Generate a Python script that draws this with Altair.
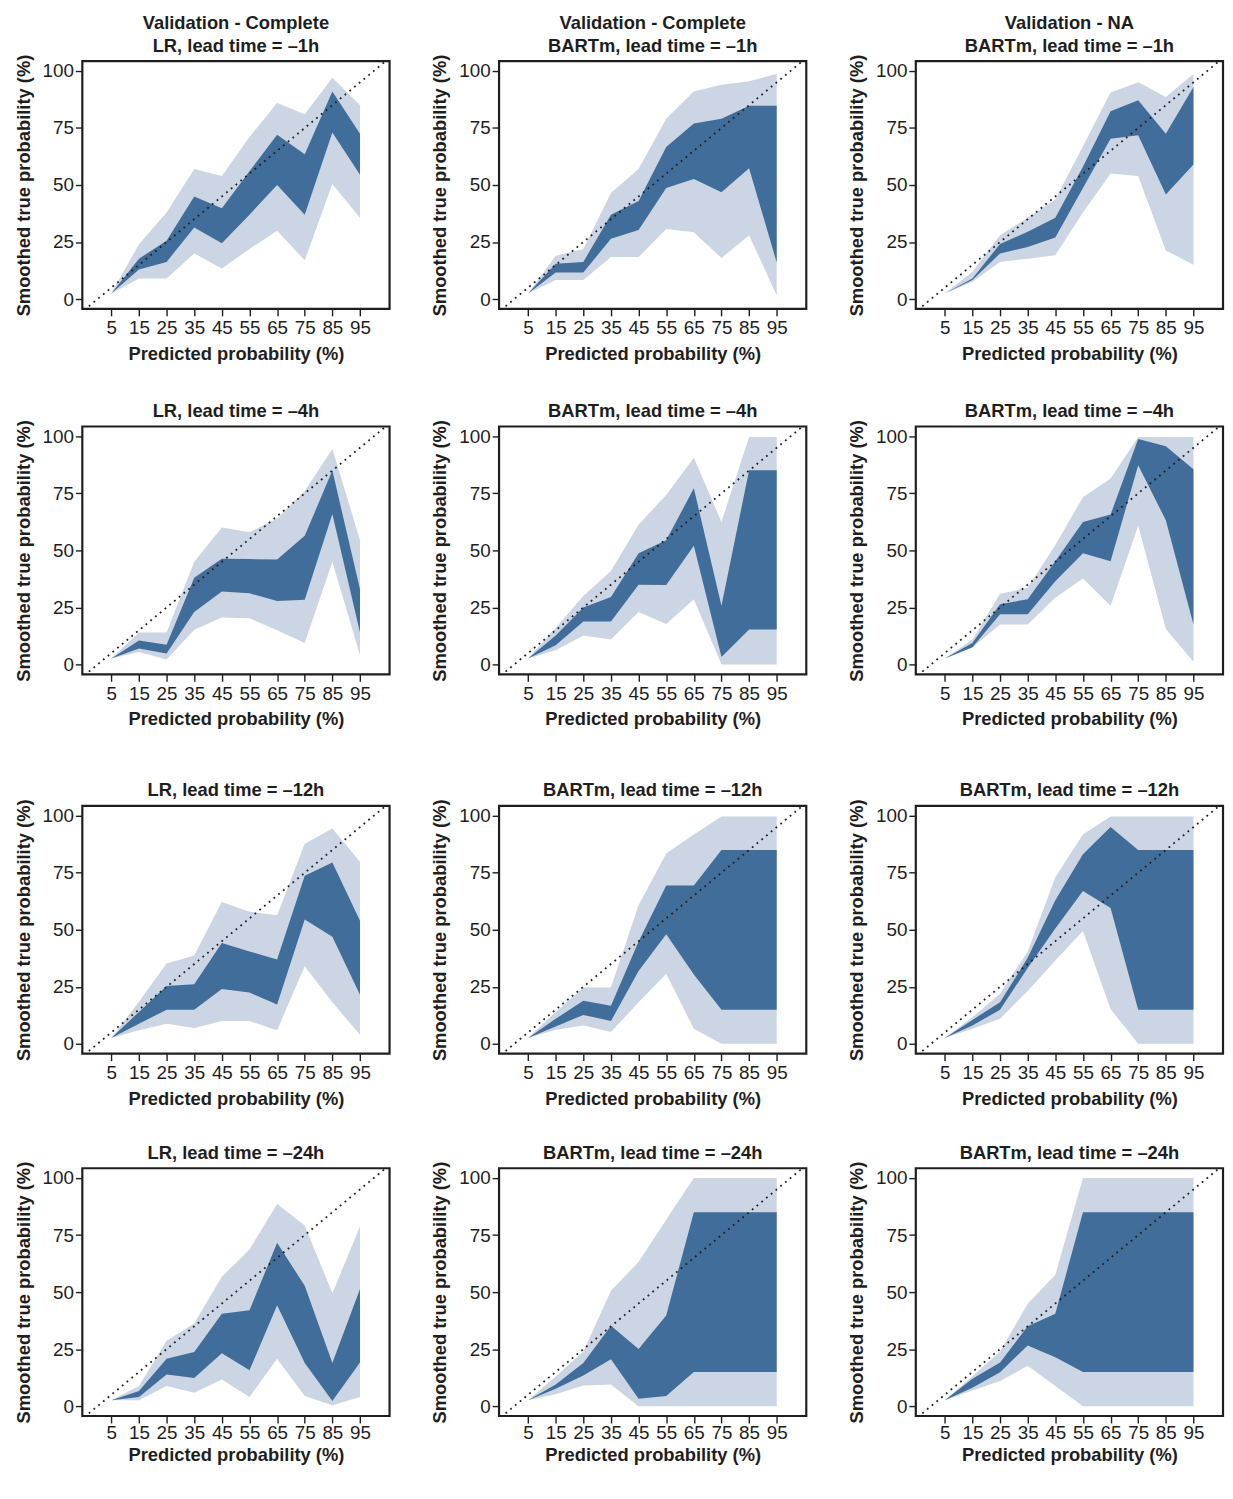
import altair as alt
import pandas as pd

X = [5, 15, 25, 35, 45, 55, 65, 75, 85, 95]
X_TICKS = [5, 15, 25, 35, 45, 55, 65, 75, 85, 95]
Y_TICKS = [0, 25, 50, 75, 100]

# Row 1: lead time -1h
lr1_ohi = [2.6, 24, 38, 57, 54, 71, 86, 81, 97, 85]
lr1_ihi = [2.5, 17.7, 25.6, 45, 39.8, 56, 72, 63.5, 91, 72.5]
lr1_ilo = [2.5, 13, 16.3, 31.4, 24.5, 37, 50, 37, 73, 54.5]
lr1_olo = [2.5, 9, 9, 20, 13.4, 22, 30, 17, 50.4, 35.7]

bc1_ohi = [2.5, 19, 22, 46.5, 57, 79, 91, 94, 95.5, 98.7]
bc1_ihi = [2.5, 15.5, 16.3, 37, 43, 66.7, 77, 79, 84.7, 84.7]
bc1_ilo = [2.5, 11.7, 11.7, 26.4, 30.3, 48.7, 52.6, 46.8, 57.3, 16]
bc1_olo = [2.5, 8.4, 8.4, 18.4, 18.4, 30.7, 29.3, 18, 28, 1.6]

bn1_ohi = [2.5, 12, 28, 35.7, 43.7, 67, 90.5, 95, 88.6, 98.7]
bn1_ihi = [2.5, 9, 24.2, 29.5, 35.7, 58, 82.3, 87.2, 72.5, 93]
bn1_ilo = [2.5, 8.4, 20, 22.8, 27, 48.7, 70.3, 71.8, 45.8, 59]
bn1_olo = [2.5, 7.6, 16.3, 17.7, 19.2, 37.9, 55, 54, 21.3, 15]

# Row 2: lead time -4h
lr4_ohi = [2.6, 14, 14, 45, 60, 58, 64, 76, 94.5, 54.5]
lr4_ihi = [2.6, 10.5, 8.7, 38, 46.3, 46.2, 46, 56.4, 85, 33]
lr4_ilo = [2.6, 7, 4.8, 23, 32, 31.2, 27.8, 28.4, 66, 14]
lr4_olo = [2.6, 5.5, 2.2, 15.2, 20.6, 20.3, 15, 9.4, 45, 4]

bc4_ohi = [2.6, 16, 30, 41, 61.3, 74.3, 90.6, 62.5, 99.7, 99.7]
bc4_ihi = [2.6, 12.7, 25, 29.6, 48.8, 54.5, 77.2, 25.7, 85.1, 85.1]
bc4_ilo = [2.6, 8.4, 18.8, 18.8, 35, 34.8, 52, 3.3, 15.3, 15.3]
bc4_olo = [2.6, 6.2, 12.7, 11, 23, 17.7, 28.6, 0, 0, 0]

bn4_ohi = [2.6, 11, 31, 33.6, 52.4, 73.3, 81.5, 99.7, 99.7, 99.7]
bn4_ihi = [2.6, 9.4, 26.4, 28.6, 45.2, 62.5, 65.7, 98.8, 95.7, 85.6]
bn4_ilo = [2.6, 7.6, 22, 22, 36.5, 48.8, 45.2, 87.3, 63.2, 17.5]
bn4_olo = [2.6, 7.4, 17.5, 17.5, 29.3, 37.7, 25.7, 60.8, 15.6, 1.2]

# Row 3: lead time -12h
lr12_ohi = [2.6, 18.5, 35.2, 38.7, 62.2, 57.9, 56.4, 87.7, 94.4, 79.8]
lr12_ihi = [2.6, 14, 25.4, 26.1, 44.2, 40.5, 37, 73.7, 79.5, 54]
lr12_ilo = [2.6, 8.8, 15, 15, 24, 22.5, 17.2, 54.5, 47, 21.5]
lr12_olo = [2.6, 6, 8.8, 7, 10, 10, 6, 34, 18.2, 4]

bc12_ohi = [2.6, 14, 24.7, 24.7, 60.7, 83.4, 91.8, 99.7, 99.7, 99.7]
bc12_ihi = [2.6, 11, 18.9, 16.7, 44.9, 69.4, 69.4, 85, 85, 85]
bc12_ilo = [2.6, 7.6, 12.7, 10, 31.9, 48, 30.4, 15, 15, 15]
bc12_olo = [2.6, 6.2, 8.1, 5.2, 18.2, 30.7, 6.6, 0, 0, 0]

bn12_ohi = [2.6, 11.7, 22, 40.5, 73, 91.8, 99.7, 99.7, 99.7, 99.7]
bn12_ihi = [2.6, 10.5, 18.2, 37.7, 63, 83.1, 95, 85, 85, 85]
bn12_ilo = [2.6, 8.1, 14.9, 33.3, 50.6, 67, 59.6, 15, 15, 15]
bn12_olo = [2.6, 6.6, 11, 23.2, 36.5, 49.5, 15.3, 0, 0, 0]

# Row 4: lead time -24h
lr24_ohi = [2.6, 8.8, 28.7, 36.2, 56.7, 68.7, 88.6, 79.2, 49.5, 78.8]
lr24_ihi = [2.6, 6.6, 20.8, 23.7, 40.5, 42, 71.6, 52.8, 18.9, 51.4]
lr24_ilo = [2.6, 4, 13.9, 12.4, 23.2, 15.7, 44.2, 18.9, 2.3, 19.2]
lr24_olo = [2.6, 2.6, 8.8, 5.9, 11.7, 4, 20.8, 4.5, 0.4, 4]

bc24_ohi = [2.6, 13, 24, 50.6, 63.2, 81.7, 100, 100, 100, 100]
bc24_ihi = [2.6, 9.5, 18.9, 35.2, 25.1, 39.8, 85, 85, 85, 85]
bc24_ilo = [2.6, 7.6, 13.4, 20.6, 3.3, 4.5, 15, 15, 15, 15]
bc24_olo = [2.6, 5.2, 9.1, 9.5, 0, 0, 0, 0, 0, 0]

bn24_ohi = [2.6, 13.1, 24, 44.9, 57.6, 100, 100, 100, 100, 100]
bn24_ihi = [2.6, 12, 19.2, 35, 40.5, 85, 85, 85, 85, 85]
bn24_ilo = [2.6, 8.1, 14.9, 26.6, 21.5, 15, 15, 15, 15, 15]
bn24_olo = [2.6, 6.9, 11, 17.7, 8.8, 0, 0, 0, 0, 0]

DIAG = [-10, 110]

LIGHT = "#cbd5e3"
DARK = "#416d9a"
INK = "#1e1e1e"
FONT = "Liberation Sans"
W, H = 310, 250
XDOM = [-5.5, 105.7]
YDOM = [-4.3, 104.3]


def panel(title, olo, ilo, ihi, ohi, last=False):
    df = pd.DataFrame({"x": X, "olo": olo, "ilo": ilo, "ihi": ihi, "ohi": ohi})
    xs = alt.Scale(domain=XDOM, nice=False, zero=False)
    ys = alt.Scale(domain=YDOM, nice=False, zero=False)
    xax = alt.Axis(values=X_TICKS, title="Predicted probability (%)", labelOverlap=False,
                   labelPadding=1 if last else 3, titlePadding=3 if last else 7)
    yax = alt.Axis(values=Y_TICKS, title="Smoothed true probability (%)", labelOverlap=False)
    base = alt.Chart(df)
    outer = base.mark_area(color=LIGHT, opacity=1).encode(
        x=alt.X("x:Q", scale=xs, axis=xax),
        y=alt.Y("olo:Q", scale=ys, axis=yax),
        y2="ohi:Q",
    )
    inner = base.mark_area(color=DARK, opacity=1).encode(
        x=alt.X("x:Q", axis=xax), y=alt.Y("ilo:Q", axis=yax), y2="ihi:Q"
    )
    diag = alt.Chart(pd.DataFrame({"x": DIAG, "y": DIAG})).mark_line(
        clip=True, color=INK, strokeDash=[1.8, 4.4], strokeWidth=1.8
    ).encode(x=alt.X("x:Q", axis=xax), y=alt.Y("y:Q", axis=yax))
    return alt.layer(outer, inner, diag).properties(
        width=W, height=H,
        title=alt.TitleParams(text=title, fontSize=18.5, fontWeight="bold",
                              font=FONT, color=INK, offset=9, lineHeight=23, dy=10),
    )


HS = 38.5

row1 = alt.hconcat(
    panel(["Validation - Complete", "LR, lead time = \u20131h"], lr1_olo, lr1_ilo, lr1_ihi, lr1_ohi),
    panel(["Validation - Complete", "BARTm, lead time = \u20131h"], bc1_olo, bc1_ilo, bc1_ihi, bc1_ohi),
    panel(["Validation - NA", "BARTm, lead time = \u20131h"], bn1_olo, bn1_ilo, bn1_ihi, bn1_ohi),
    spacing=HS,
)
row2 = alt.hconcat(
    panel("LR, lead time = \u20134h", lr4_olo, lr4_ilo, lr4_ihi, lr4_ohi),
    panel("BARTm, lead time = \u20134h", bc4_olo, bc4_ilo, bc4_ihi, bc4_ohi),
    panel("BARTm, lead time = \u20134h", bn4_olo, bn4_ilo, bn4_ihi, bn4_ohi),
    spacing=HS,
)
row3 = alt.hconcat(
    panel("LR, lead time = \u201312h", lr12_olo, lr12_ilo, lr12_ihi, lr12_ohi),
    panel("BARTm, lead time = \u201312h", bc12_olo, bc12_ilo, bc12_ihi, bc12_ohi),
    panel("BARTm, lead time = \u201312h", bn12_olo, bn12_ilo, bn12_ihi, bn12_ohi),
    spacing=HS,
)
row4 = alt.hconcat(
    panel("LR, lead time = \u201324h", lr24_olo, lr24_ilo, lr24_ihi, lr24_ohi, last=True),
    panel("BARTm, lead time = \u201324h", bc24_olo, bc24_ilo, bc24_ihi, bc24_ohi, last=True),
    panel("BARTm, lead time = \u201324h", bn24_olo, bn24_ilo, bn24_ihi, bn24_ohi, last=True),
    spacing=HS,
)

chart = alt.vconcat(
    alt.vconcat(row1, row2, spacing=36.7),
    alt.vconcat(row3, row4, spacing=33.6),
    spacing=50.5,
).properties(
    padding={"left": 5, "top": -2, "right": 0, "bottom": 0}
).configure_view(
    stroke=INK, strokeWidth=2.2
).configure_axis(
    domain=False, grid=False, tickColor=INK, tickSize=7, tickWidth=1.4,
    labelFont=FONT, labelFontSize=19, labelColor=INK, labelPadding=2,
    labelOverlap=False,
    titleFont=FONT, titleFontSize=18.5, titleFontWeight="bold", titleColor=INK,
    titlePadding=9,
).configure_concat(spacing=HS)

chart.save("out.html", embed_options={"renderer": "svg", "actions": False})
